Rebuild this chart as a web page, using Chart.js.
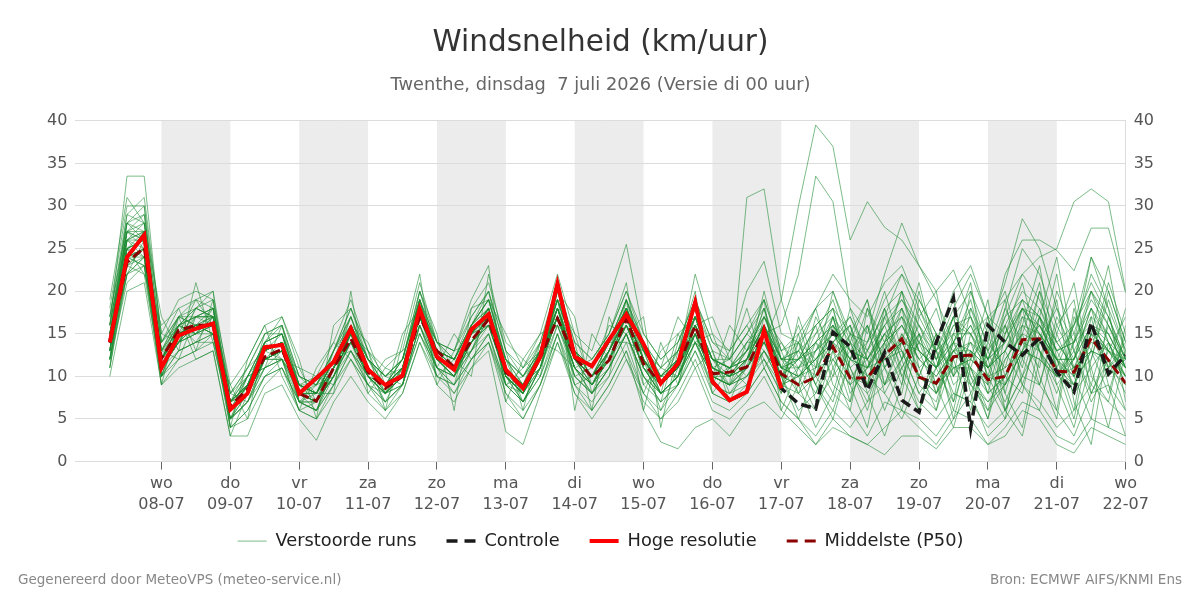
<!DOCTYPE html>
<html><head><meta charset="utf-8">
<script src="https://cdn.jsdelivr.net/npm/chart.js@4"></script>
<style>
html,body{margin:0;padding:0;background:#fff;}
#wrap{position:relative;width:1200px;height:600px;}
.foot{position:absolute;top:571px;font:13.5px 'DejaVu Sans',sans-serif;color:#888;white-space:nowrap;}
</style></head><body>
<div id="wrap"><canvas id="c" width="1200" height="600"></canvas>
<div class="foot" style="left:18px">Gegenereerd door MeteoVPS (meteo-service.nl)</div>
<div class="foot" style="right:18px">Bron: ECMWF AIFS/KNMI Ens</div></div>
<script>
// ---- axis labels ----
const dayNames = ['wo','do','vr','za','zo','ma','di','wo','do','vr','za','zo','ma','di','wo'];
const dayDates = ['08-07','09-07','10-07','11-07','12-07','13-07','14-07','15-07','16-07','17-07','18-07','19-07','20-07','21-07','22-07'];
const tickHours = [24,48,72,96,120,144,168,192,216,240,264,288,312,336,360]; // hours since 07-07 00:00
const yTicks = [0,5,10,15,20,25,30,35,40];

// ---- time steps: every 6 hours from 07-07 06:00 ----
const stepHours = Array.from({length:60}, (_, i) => 6 + 6 * i);

// ---- deterministic runs ----
const hres = [14,24,26.6,11,14.8,15.6,16.2,6.1,8,13.4, 13.7,8,9.8,11.7,15.6,10.8,9,10.1,17.9,12.3, 10.8,15.5,17.3,10.8,8.6,12.3,20.9,12.3,11.2,14.3, 17.3,13.8,9.2,11.5,18.7,9.4,7.2,8.2,15.4,8.6];
const control = [14,24,26.6,11,14.8,15.6,16.2,6.1,8,13.4, 13.7,8,9.8,11.7,15.6,10.8,9,10.1,17.9,12.3, 10.8,15.5,17.3,10.8,8.6,12.3,20.9,12.3,11.2,14.3, 17.3,13.8,9.2,11.5,18.7,9.4,7.2,8.2,15.4,8.6, 6.8,6.2,15.2,13.5,8.4,12.8,7.2,5.8,14,19.2, 3.9,16,14,12.5,14.5,10.5,8.2,16.3,10.3,12.5];
const p50 = [14,23.4,25.1,12.1,15.4,16,16,6.5,8.5,12.3, 13.2,8,7.1,11,14.4,10.5,8.6,10,17,13, 11.1,14.2,16.7,10.5,8.6,12.2,16.8,12.3,9.9,11.9, 16.8,11.5,9.2,11.3,15.9,10.3,10.5,11.1,15.3,10.3, 9,9.9,13.5,9.8,9.8,12.5,14.4,9.9,9.2,12.3, 12.5,9.6,10,14.3,14.4,10.6,10.5,14.5,11.9,9.2];

// ---- ensemble members (perturbed runs) ----
const m01 = [16,33.5,33.5,14,16,18,17,5,9,13, 14,7,6,10,15,10,8,11,18,12, 10,15,18,9,7,11,18,12,9,13, 17,12,8,10,16,12,9,31,32,19, 12,10,16,8,11,15,13,8,6,12, 14,8,10,16,13,9,12,20,16,11];
const m02 = [13,28,26,12,15,16,15,7,8,12, 13,9,8,11,14,11,9,10,17,13, 11,14,17,11,9,12,17,12,10,12, 16,11,9,12,15,10,11,12,14,19, 30,39.5,37,26,30.5,27.5,26,23,20,22.5, 17,12,14,18,15,11,9,13,12,8];
const m03 = [15,26,27,11,14,15,16,6,8,13, 14,8,7,11,15,10,9,10,18,12, 11,15,16,10,8,12,18,11,9,13, 17,12,9,11,16,10,10,13,15,16, 22,33.5,30.5,18,15,22,28,23,19,14, 11,6,9,13,16,12,8,11,14,10];
const m04 = [12,23,25,13,14,17,17,4,6,10, 12,9,8,12,16,11,7,9,16,11, 9,13,17,11,9,11,17,13,10,12, 18,13,11,10,15,8,7,9,13,10, 14,9,6,12,16,8,5,10,15,7, 18,12,6,10,17,9,4,12,20,14];
const m05 = [14,24,24,10,15,15,16,7,9,12, 13,8,9,10,14,12,10,11,19,13, 12,15,17,10,8,13,18,10,8,11, 15,9,7,9,14,12,11,14,16,10, 6,8,12,14,10,8,12,15,11,14, 9,6,13,18,15,12,16,21,17,12];
const m06 = [17,29,28,12,17,16,18,6,10,14, 15,9,7,12,17,11,9,12,19,14, 12,16,19,12,10,13,19,13,11,14, 19,14,10,12,17,11,12,10,12,9, 11,15,19,13,9,14,18,13,11,15, 12,10,17,22,19,14,11,16,13,10];
const m07 = [11,22,23,9,12,13,14,5,7,11, 12,6,5,9,13,9,7,9,15,10, 9,12,14,8,6,9,15,9,7,10, 14,8,5,8,12,7,6,8,11,7, 5,3,6,4,7,9,11,7,5,8, 7,4,6,10,9,6,3,8,9,6];
const m08 = [15,27,29,14,18,19,20,8,11,15, 16,10,9,13,18,12,10,12,20,13, 12,17,20,13,10,14,21,14,12,15, 20,14,11,13,18,13,12,15,18,12, 14,12,15,17,13,18,20,16,12,17, 15,11,14,19,17,13,15,22,18,13];
const m09 = [13,25,26,11,14,16,15,6,8,12, 13,8,7,11,15,11,9,10,18,12, 10,14,17,10,8,12,17,12,10,12, 17,12,9,11,15,11,10,11,15,10, 12,16,9,7,13,18,10,6,11,17, 8,13,19,9,6,15,21,10,7,16];
const m10 = [12,21,23,10,12,13,15,4,5,9, 11,7,6,9,12,9,6,9,15,11, 8,12,15,8,5,9,15,8,6,9, 13,6,2.3,1.5,4,5,3,6,7,5, 9,4,8,6,3,7,6,4,2,5, 8,3,5,9,7,4,6,9,7,5];
const m11 = [14,23,25,12,16,15,17,6,9,13, 14,9,8,12,15,10,8,10,17,12, 11,15,18,11,9,12,18,13,10,14, 18,13,10,12,17,12,11,12,16,11, 10,13,16,12,11,17,22,19,15,13, 10,7,9,13,12,10,13,17,15,11];
const m12 = [16,28,27,13,15,17,16,7,9,14, 15,8,7,10,14,10,9,11,17,13, 11,14,16,10,7,11,17,11,9,12, 16,11,8,10,15,10,9,11,14,11, 12,16,18,10,8,11,14,10,8,13, 16,12,18,25,22,16,12,18,14,10];
const m13 = [10,20,21,9,11,12,13,3,3,8, 9,5,2.5,7,10,7,5,8,14,9, 7,11,13,3.5,2,8,14,8,5,8, 12,7,5,7,11,6,5,7,10,6, 4,2,5,3,2,4,6,5,3,6, 5,2,4,7,6,3,2,5,4,3];
const m14 = [15,26,25,11,15,16,16,7,10,13, 14,7,6,11,16,11,8,10,18,12, 10,15,17,9,8,12,17,12,9,13, 17,12,9,11,16,11,10,11,15,10, 5,11,17,9,4,14,20,11,6,15, 21,9,5,16,23,12,6,17,9,3];
const m15 = [18,30,30,15,19,20,19,9,12,16, 17,11,10,14,19,13,11,13,21,14, 13,18,21,14,12,15,22,15,13,19, 25.5,15,12,14,19,14,13,16,19,13, 15,18,20,15,13,16,18,14,12,16, 17,13,16,20,18,14,16,24,20,14];
const m16 = [13,22,24,11,13,14,15,5,7,11, 12,8,7,10,14,10,8,9,16,11, 10,13,15,9,7,10,16,10,8,11, 15,10,8,10,14,9,8,10,13,9, 10,6,13,16,8,3,9,18,13,5, 12,19,8,4,14,22,10,5,17,11];
const m17 = [14,25,26,12,15,16,17,6,8,12, 13,8,8,11,15,11,9,10,17,12, 11,14,17,11,9,12,17,12,10,13, 17,12,9,11,16,12,11,13,15,11, 10,12,14,12,14,19,22,17,13,11, 9,7,10,14,16,12,10,15,13,10];
const m18 = [12,24,27,12,16,18,17,7,9,12, 13,9,8,12,16,12,9,11,18,13, 12,16,18,11,9,13,19,13,11,14, 19,13,10,12,17,12,10,12,16,12, 11,13,15,12,10,12,14,13,11,17, 20,15,21,28.5,25,18,14,16,15,11];
const m19 = [15,27,28,13,17,17,18,7,10,14, 15,9,8,12,16,12,10,12,19,13, 12,16,19,12,10,13,19,13,11,14, 19,14,11,13,17,12,11,14,17,12, 13,15,17,14,12,15,17,14,12,14, 13,11,15,18,17,13,14,19,16,12];
const m20 = [11,23,22,10,13,14,14,5,7,10, 11,7,6,9,13,9,7,9,16,10, 9,12,15,9,7,10,15,10,8,11, 15,10,7,9,13,9,8,9,12,8, 14,9,5,12,18,11,6,15,9,4, 11,17,6,3,12,19,7,2,14,9];
const m21 = [14,25,24,12,15,16,16,6,9,12, 13,8,7,11,15,11,9,10,17,12, 11,15,18,10,8,12,18,12,10,13, 17,12,9,12,22,15,13,20,23.5,15, 14,18,22,19,17,21,23,18,14,20, 23,17,15,19,17,14,11,15,13,12];
const m22 = [13,24,25,11,14,15,16,6,8,12, 12,8,7,11,14,11,8,10,17,12, 11,14,16,10,8,11,17,11,9,12, 16,11,8,10,15,10,9,10,14,10, 9,14,18,11,7,13,20,13,8,14, 17,10,6,13,20,11,5,15,23,12];
const m23 = [16,27,26,13,17,18,17,8,10,14, 15,9,9,13,17,12,10,12,19,14, 12,16,19,12,10,13,19,13,11,14, 18,13,10,13,17,12,11,13,17,12, 12,14,16,13,11,14,16,12,10,13, 14,11,13,17,16,12,12,18,15,11];
const m24 = [12,22,24,10,13,14,15,4,6,10, 11,6,5,8,12,8,6,8,14,10, 8,11,14,7,5,9,14,9,6,9, 13,8,6,9,13,8,7,8,11,7, 5,2,4,3,2,0.8,3,3,1.5,4, 4,2,3,6,5,2,1,4,3,2];
const m25 = [14,26,27,12,16,17,17,7,9,13, 14,8,8,11,16,11,9,11,18,13, 11,15,18,11,9,12,18,12,10,13, 18,13,10,11,17,11,10,12,16,11, 16,10,7,14,19,9,12,20,12,6, 15,17,10,8,17,24,13,7,11,18];
const m26 = [15,25,26,11,14,16,16,6,9,12, 13,8,7,10,15,10,8,10,17,12, 10,14,17,10,8,12,17,12,9,12, 16,12,9,11,15,11,10,12,15,11, 12,14,16,13,12,16,19,16,13,18, 22,17,19,22,24,25,30.5,32,30.5,20];
const m27 = [13,24,23,11,14,15,15,5,8,11, 12,7,7,10,13,10,8,9,16,11, 10,13,16,10,7,11,16,11,8,11, 15,10,8,10,14,10,9,10,13,9, 8,6,11,15,9,17,12,6,14,19, 10,5,15,21,13,6,18,11,4,13];
const m28 = [17,28,29,14,17,19,18,8,11,15, 16,10,9,13,18,13,10,12,20,14, 13,17,20,13,11,14,20,14,12,15, 20,15,12,14,19,14,12,15,19,13, 14,16,18,15,14,17,19,15,13,15, 15,12,14,18,16,13,14,20,17,12];
const m29 = [14,24,25,12,15,16,16,6,8,12, 13,8,7,11,15,11,9,10,17,12, 11,14,17,10,8,12,17,12,10,13, 17,12,9,11,15,11,10,11,15,10, 13,18,11,6,16,9,14,21,13,8, 7,16,20,12,9,16,19,8,13,17];
const m30 = [15,26,26,12,15,16,17,6,9,13, 14,9,8,11,15,11,9,11,18,12, 11,15,18,11,9,12,18,12,10,13, 17,12,10,12,16,12,11,12,16,11, 11,12,15,13,12,15,17,13,11,14, 18,14,22,26,26,24.8,22.4,27.4,27.4,19.8];
const m31 = [12,25,22,16,18,13,19,4,12,16, 10,6,11,14,12,9,12,13,15,11, 15,12,14,9,11,15,16,14,6,17, 12,8,13,15,11,13,7,12,18,9, 15,7,10,18,12,6,11,15,8,12, 6,14,11,18,10,5,17,13,8,15];
const m32 = [19,31,28,17,13,21,14,9,5,14, 17,12,5,16,18,13,6,14,22,9, 13,19,23,7,12,10,20,17,8,10, 19,6,14,9,16,17,12,18,11,14, 10,12,8,15,19,11,8,17,20,10, 13,8,16,11,20,15,10,12,19,13];
const m33 = [11,26,24,9,17,12,13,3,8,15, 15,10,8,8,20,8,11,10,20,15, 6,18,19,15,11,13,21,6,15,12, 15,17,4,13,20,8,11,9,17,13, 8,10,17,11,6,13,17,10,15,9, 11,5,12,15,9,17,13,8,12,6];
const m34 = [14,29,31,15,14,18,20,5,10,11, 16,7,9,12,16,14,9,12,19,10, 12,10,22,13,6,14,13,11,12,15, 21,9,11,17,14,10,16,13,19,6, 11,14,12,9,14,20,13,8,11,16, 15,10,9,17,13,8,14,18,11,14];
const m35 = [13,27,25,10,16,15,18,8,7,12, 12,11,7,13,17,12,8,15,18,14, 11,13,17,12,9,11,19,9,10,14, 14,13,8,15,17,11,9,14,14,11, 13,9,14,16,11,15,10,14,9,13, 16,11,13,9,15,12,9,16,13,11];
const m36 = [14,22,26,13,12,17,18,6,9,14, 12,9,10,9,16,12,10,9,19,11, 9,16,20,11,8,13,17,10,11,16, 15,10,7,14,18,9,13,16,12,8, 17,11,20,14,9,18,12,16,11,7, 13,9,18,14,11,20,15,9,16,12];
const m37 = [17,28,30,10,16,14,17,7,11,13, 15,7,8,12,13,10,7,11,17,13, 12,13,18,9,10,12,19,15,9,11, 18,14,10,10,19,13,8,11,20,12, 9,17,13,7,18,14,9,19,15,10, 20,13,8,15,21,10,14,24,18,7];
const m38 = [12,24,23,12,15,19,16,5,7,12, 14,8,6,11,17,11,9,12,16,12, 10,15,16,12,7,11,20,13,10,12, 17,11,9,12,14,15,10,13,17,14, 11,8,14,17,12,9,15,11,13,17, 9,12,16,10,14,18,11,13,21,15];
const m39 = [15,25,27,14,17,16,15,6,10,11, 13,10,9,12,15,13,8,10,18,14, 13,14,17,10,9,14,16,11,8,13, 19,12,6,11,16,12,12,15,13,10, 12,14,10,13,16,12,18,9,7,14, 19,11,7,12,18,13,9,15,10,12];
const m40 = [13,27,26,11,14,18,19,7,8,13, 12,6,7,10,14,9,8,11,19,12, 11,16,19,11,8,12,18,13,11,14, 16,13,8,9,17,10,9,12,18,11, 8,13,17,10,12,16,11,14,18,11, 12,15,9,13,17,11,16,20,14,9];
const m41 = [16,26,28,12,16,17,18,7,9,14, 16,9,8,13,16,12,9,11,18,13, 11,15,18,12,9,13,18,12,10,14, 18,12,9,13,16,11,10,12,16,12, 13,11,14,16,10,13,16,12,14,10, 14,12,17,19,13,10,12,16,11,13];
const m42 = [13,23,24,11,15,16,15,6,8,12, 13,8,7,11,14,10,8,10,17,12, 10,14,17,10,8,12,17,11,9,12, 16,11,8,10,14,10,9,11,14,9, 10,11,12,9,11,12,13,10,9,11, 12,10,11,13,12,10,11,13,12,10];
const m43 = [15,24,25,13,16,15,17,6,9,13, 14,8,8,12,15,11,9,11,18,12, 11,15,17,11,9,12,18,12,10,13, 17,12,9,11,16,11,10,12,15,11, 10,12,14,11,13,11,15,12,10,13, 11,9,12,15,14,12,10,14,13,11];
const m44 = [14,25,26,12,14,16,16,5,8,12, 13,7,7,10,15,10,8,10,17,11, 10,14,16,10,8,11,17,11,9,12, 16,11,8,10,15,10,9,11,14,10, 9,10,13,10,9,12,14,10,8,11, 11,8,10,14,13,10,9,13,11,9];
const m45 = [16,27,27,13,16,17,17,7,9,13, 14,9,8,12,16,11,9,11,18,13, 12,16,18,11,9,13,19,13,11,14, 18,13,10,12,17,12,11,13,16,12, 12,13,15,12,11,14,16,13,11,13, 13,11,13,16,15,12,12,16,14,12];

const members = [m01,m02,m03,m04,m05,m06,m07,m08,m09,m10,m11,m12,m13,m14,m15,m16,m17,m18,m19,m20,m21,m22,m23,m24,m25,m26,m27,m28,m29,m30,m31,m32,m33,m34,m35,m36,m37,m38,m39,m40,m41,m42,m43,m44,m45];

const toXY = arr => arr.map((v, i) => ({x: stepHours[i], y: v}));

const datasets = [];
members.forEach((m, k) => {
  datasets.push({
    label: k === 0 ? 'Verstoorde runs' : '',
    showInLegend: k === 0, legendRank: 0,
    data: toXY(m), borderColor: 'rgba(30,140,50,0.58)', borderWidth: 1,
    pointRadius: 0, tension: 0, order: 4
  });
});
datasets.push({label:'Middelste (P50)', legendRank:3, legendDash:[11,7], data: toXY(p50), borderColor:'#8b0000', borderWidth:3, borderDash:[10,5], pointRadius:0, order:3});
datasets.push({label:'Controle', legendRank:1, legendDash:[11,7], data: toXY(control), borderColor:'#1a1a1a', borderWidth:3.5, borderDash:[10,5], pointRadius:0, order:2});
datasets.push({label:'Hoge resolutie', legendRank:2, data: toXY(hres), borderColor:'#ff0000', borderWidth:4, pointRadius:0, order:1});

const bandPlugin = {
  id: 'bands',
  beforeDraw(chart) {
    const {ctx, chartArea, scales} = chart;
    const x = scales.x;
    ctx.save();
    ctx.fillStyle = '#ececec';
    for (let i = 0; i + 1 < tickHours.length; i += 2) {
      const a = x.getPixelForValue(tickHours[i]);
      const b = x.getPixelForValue(tickHours[i + 1]);
      ctx.fillRect(a, chartArea.top, b - a, chartArea.bottom - chartArea.top);
    }
    ctx.restore();
  }
};

Chart.defaults.font.family = "'DejaVu Sans', sans-serif";
const defaultLabels = Chart.defaults.plugins.legend.labels.generateLabels;
new Chart(document.getElementById('c'), {
  type: 'line',
  data: {datasets},
  plugins: [bandPlugin],
  options: {
    responsive: false, animation: false, devicePixelRatio: 1,
    layout: {padding: {left: 39, right: 38, top: 0, bottom: 40}},
    plugins: {
      tooltip: {enabled: false},
      title: {display: true, text: 'Windsnelheid (km/uur)', color: '#333', font: {size: 29.5, weight: 'normal'}, padding: {top: 26, bottom: 12}},
      subtitle: {display: true, text: 'Twenthe, dinsdag  7 juli 2026 (Versie di 00 uur)', color: '#666', font: {size: 17.8, weight: 'normal'}, padding: {top: 1, bottom: 25}},
      legend: {
        position: 'bottom',
        labels: {
          usePointStyle: true, pointStyle: 'line', pointStyleWidth: 29,
          color: '#222', font: {size: 17.8}, padding: 30,
          generateLabels: chart => defaultLabels(chart).map(it => {
            const ds = chart.data.datasets[it.datasetIndex];
            it.lineDash = ds.legendDash || [];
            it.lineWidth = ds.borderWidth;
            it.strokeStyle = ds.borderColor;
            return it;
          }),
          filter: (item, data) => data.datasets[item.datasetIndex].showInLegend !== false && item.text !== '',
          sort: (a, b, data) => data.datasets[a.datasetIndex].legendRank - data.datasets[b.datasetIndex].legendRank
        }
      }
    },
    scales: {
      x: {
        type: 'linear', min: -6, max: 360,
        afterBuildTicks: s => { s.ticks = tickHours.map(v => ({value: v})); },
        afterFit: s => { s.height -= 17; s._computeLabelArea = () => undefined; },
        ticks: {autoSkip: false, maxRotation: 0, color: '#555', font: {size: 16, lineHeight: 1.3}, padding: 4,
          callback: (v, i) => [dayNames[i], dayDates[i]]},
        grid: {display: true, drawOnChartArea: false, drawTicks: true, tickLength: 8, tickColor: '#666', color: '#666'},
        border: {display: false}
      },
      y: {
        position: 'left', min: 0, max: 40,
        afterBuildTicks: s => { s.ticks = yTicks.map(v => ({value: v})); },
        ticks: {color: '#555', font: {size: 16}, padding: 8},
        grid: {color: '#dcdcdc', drawTicks: false},
        border: {display: false}
      },
      y2: {
        position: 'right', min: 0, max: 40,
        afterBuildTicks: s => { s.ticks = yTicks.map(v => ({value: v})); },
        ticks: {color: '#555', font: {size: 16}, padding: 8},
        grid: {drawOnChartArea: false, drawTicks: false},
        border: {display: true, color: '#dcdcdc'}
      }
    }
  }
});
</script>
</body></html>
